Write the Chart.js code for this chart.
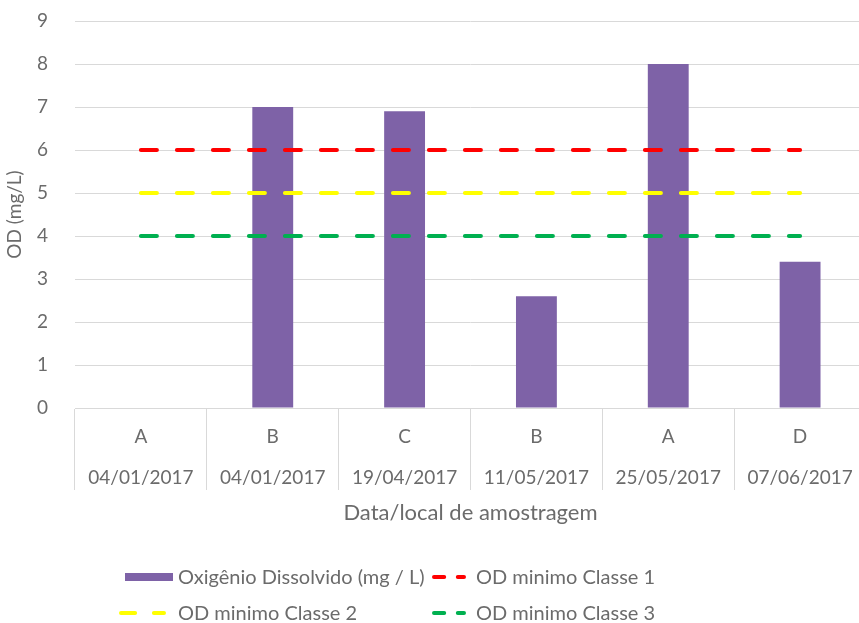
<!DOCTYPE html>
<html>
<head>
<meta charset="utf-8">
<title>OD</title>
<script src="https://cdn.jsdelivr.net/npm/chart.js@4.4.1/dist/chart.umd.min.js"></script>
<style>
  html, body { margin: 0; padding: 0; background: #fff; overflow: hidden; }
  canvas { display: block; }
</style>
</head>
<body>
<canvas id="grafico" width="870" height="623"></canvas>
<script>
// pontos de amostragem (local + data)
var locais = ['A', 'B', 'C', 'B', 'A', 'D'];
var datas = ['04/01/2017', '04/01/2017', '19/04/2017', '11/05/2017', '25/05/2017', '07/06/2017'];

// oxigenio dissolvido medido (o primeiro ponto nao tem valor)
var oxigenio = [null, 7.0, 6.9, 2.6, 8.0, 3.4];

// limites minimos de OD por classe
var classe1 = [6, 6, 6, 6, 6, 6];
var classe2 = [5, 5, 5, 5, 5, 5];
var classe3 = [4, 4, 4, 4, 4, 4];

var corTexto = '#6b6b6b';
var corGrade = '#d9d9d9';
var fonte = 'Lato, "Open Sans", sans-serif';

var rotulos = [];
for (var i = 0; i < locais.length; i++) {
    rotulos.push([locais[i], datas[i]]);
}

function linhaLimite(nome, valores, cor) {
    return {
        type: 'line',
        label: nome,
        data: valores,
        borderColor: cor,
        backgroundColor: cor,
        borderWidth: 4,
        borderDash: [16, 20],
        borderCapStyle: 'round',
        pointRadius: 0,
        fill: false,
        order: 0
    };
}

// legenda no estilo do Excel (duas linhas)
var legendaExcel = {
    id: 'legendaExcel',
    afterDraw: function (chart, args, opts) {
        var ctx = chart.ctx;
        ctx.save();
        ctx.font = opts.font;
        ctx.textBaseline = 'middle';
        opts.itens.forEach(function (it) {
            var ds = chart.data.datasets[it.ds];
            if (ds.type === 'line') {
                ctx.strokeStyle = ds.borderColor;
                ctx.lineWidth = 4;
                ctx.lineCap = 'round';
                ctx.setLineDash([it.w * 0.3, it.w * 0.4]);
                ctx.beginPath();
                ctx.moveTo(it.x + 2, it.y);
                ctx.lineTo(it.x + it.w - 2, it.y);
                ctx.stroke();
                ctx.setLineDash([]);
            } else {
                ctx.fillStyle = ds.backgroundColor;
                ctx.fillRect(it.x, it.y - 4, it.w, 8);
            }
            ctx.fillStyle = opts.cor;
            ctx.fillText(ds.label, it.x + it.w + it.gap, it.y + 1);
        });
        ctx.restore();
    }
};

var ctx = document.getElementById('grafico').getContext('2d');

var grafico = new Chart(ctx, {
    type: 'bar',
    data: {
        labels: rotulos,
        datasets: [{
            label: 'Oxigênio Dissolvido (mg / L)',
            data: oxigenio,
            backgroundColor: '#7e62a7',
            barPercentage: 0.31,
            categoryPercentage: 1,
            order: 1
        },
        linhaLimite('OD minimo Classe 1', classe1, '#ff0000'),
        linhaLimite('OD minimo Classe 2', classe2, '#ffff00'),
        linhaLimite('OD minimo Classe 3', classe3, '#00b050')]
    },
    options: {
        responsive: false,
        animation: false,
        devicePixelRatio: 1,
        layout: {
            padding: { top: 21, right: 4, bottom: 97, left: 0 }
        },
        plugins: {
            legend: { display: false },
            tooltip: { enabled: false },
            legendaExcel: {
                font: '20px ' + fonte,
                cor: corTexto,
                itens: [
                    { ds: 0, x: 125, y: 577, w: 48, gap: 5 },
                    { ds: 1, x: 432, y: 577, w: 34, gap: 10 },
                    { ds: 2, x: 119, y: 613, w: 47, gap: 12 },
                    { ds: 3, x: 432, y: 613, w: 34, gap: 10 }
                ]
            }
        },
        scales: {
            x: {
                grid: {
                    offset: true,
                    drawOnChartArea: false,
                    drawTicks: true,
                    tickLength: 82,
                    color: corGrade
                },
                border: { color: corGrade },
                ticks: {
                    color: corTexto,
                    padding: -73.5,
                    maxRotation: 0,
                    autoSkip: false,
                    font: { family: fonte, size: 19, lineHeight: 2.16 }
                },
                title: {
                    display: true,
                    text: 'Data/local de amostragem',
                    color: corTexto,
                    padding: 0,
                    font: { family: fonte, size: 22 }
                },
                afterFit: function (scale) { scale.height = 118; }
            },
            y: {
                min: 0,
                max: 9,
                ticks: {
                    stepSize: 1,
                    color: corTexto,
                    padding: 27,
                    font: { family: fonte, size: 19 }
                },
                grid: { color: corGrade, drawTicks: false },
                border: { display: false },
                title: {
                    display: true,
                    text: 'OD (mg/L)',
                    color: corTexto,
                    padding: { top: 3, bottom: 0 },
                    font: { family: fonte, size: 19 }
                },
                afterFit: function (scale) {
                    scale.width = 75;
                    scale.paddingTop = 0;
                    scale.paddingBottom = 0;
                }
            }
        }
    },
    plugins: [legendaExcel]
});
</script>
</body>
</html>
